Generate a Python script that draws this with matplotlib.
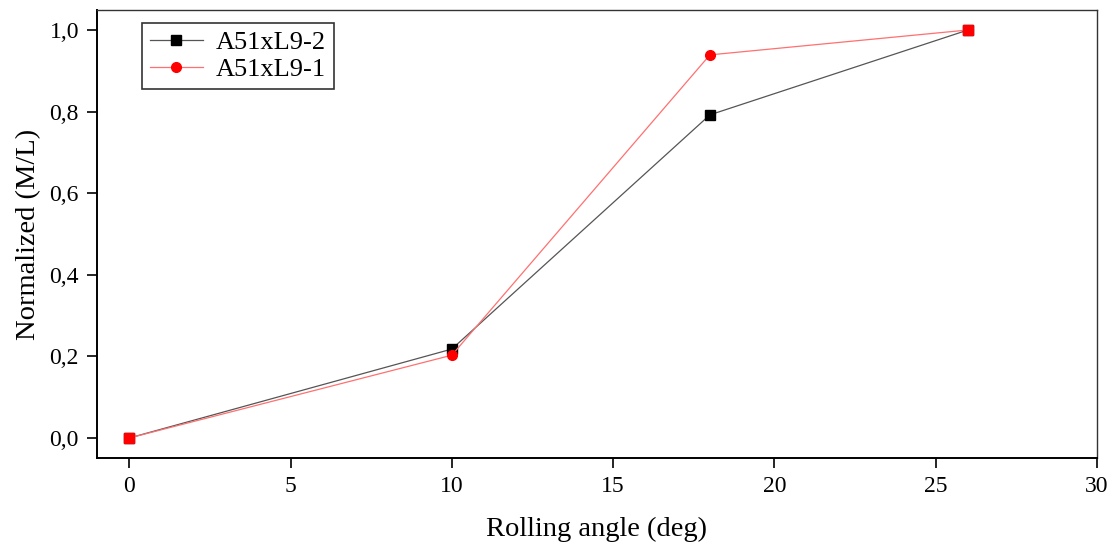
import matplotlib.pyplot as plt
import numpy as np

# data
angle = [0, 10, 18, 26]
a51_2 = [0.0, 0.218, 0.792, 1.0]
a51_1 = [0.0, 0.203, 0.939, 1.0]

plt.rcParams['font.family'] = ['Liberation Serif', 'DejaVu Serif']

fig = plt.figure(figsize=(11.14, 5.43), dpi=100)
ax = fig.add_axes([97 / 1114, 1 - 458 / 543, 1000 / 1114, 448 / 543])

ax.plot(angle, a51_2, color='#555555', lw=0.9, marker='s', ms=7,
        mfc='black', mec='black', label='A51xL9-2', zorder=3)
ax.plot(angle, a51_1, color='#ff7070', lw=0.9, marker='o', ms=7,
        mfc='red', mec='red', label='A51xL9-1', zorder=4)

# where both series overlap Origin shows a red square
same = [i for i in range(len(angle)) if a51_1[i] == a51_2[i]]
ax.plot([angle[i] for i in same], [a51_1[i] for i in same], ls='none',
        marker='s', ms=7, mfc='red', mec='red', zorder=5)

ax.set_xlim(-1, 30)
ax.set_ylim(-0.049, 1.049)
ax.set_xticks([0, 5, 10, 15, 20, 25, 30])
ax.set_yticks([0, 0.2, 0.4, 0.6, 0.8, 1.0])
ax.set_yticklabels([f'{v:.1f}'.replace('.', ',') for v in [0, 0.2, 0.4, 0.6, 0.8, 1.0]])
ax.tick_params(direction='out', length=7, width=1.2, labelsize=17, pad=6)

for s in ['left', 'bottom']:
    ax.spines[s].set_linewidth(1.4)
for s in ['top', 'right']:
    ax.spines[s].set_linewidth(1.0)
    ax.spines[s].set_color('#333333')

ax.set_xlabel('Rolling angle (deg)', fontsize=20.5, labelpad=14)
ax.set_ylabel('Normalized (M/L)', fontsize=20.5, labelpad=6)

leg = ax.legend(loc='upper left', bbox_to_anchor=(0.045, 0.972), fontsize=19,
                frameon=True, fancybox=False, edgecolor='black',
                handlelength=2.0, handletextpad=0.5, borderpad=0.3,
                labelspacing=0.15, borderaxespad=0)
leg.get_frame().set_linewidth(1.2)

fig.savefig('out.png', dpi=100)
